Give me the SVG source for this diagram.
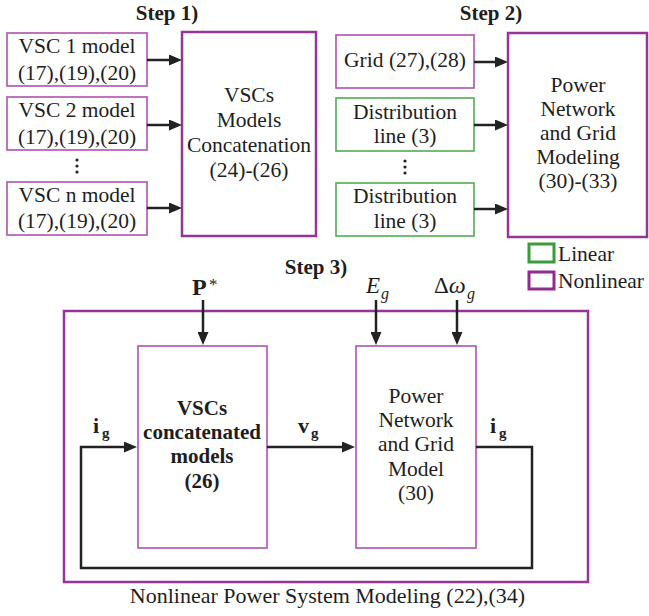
<svg xmlns="http://www.w3.org/2000/svg" width="649" height="616" viewBox="0 0 649 616">
<defs>
<style>
text{font-family:"Liberation Serif","Times New Roman",serif;fill:#1e1e1e}
.t{font-size:21.5px;text-anchor:middle}
.b{font-weight:bold}
.st{font-size:21px;font-weight:bold;text-anchor:middle}
.pb{fill:#fff;stroke:#973597;stroke-width:2.5}
.ps{fill:#fff;stroke:#b35cb3;stroke-width:1.7}
.gs{fill:#fff;stroke:#5caf5c;stroke-width:1.7}
.c{fill:none;stroke:#222;stroke-width:2.5}
</style>
<marker id="ah" viewBox="0 0 13 11" refX="9" refY="5.5" markerWidth="13" markerHeight="11" markerUnits="userSpaceOnUse" orient="auto">
<path d="M0,0 L13,5.5 L0,11 Z" fill="#222"/>
</marker>
</defs>

<text class="st" x="167" y="20">Step 1)</text>
<text class="st" x="491" y="20">Step 2)</text>
<text class="st" x="316" y="274">Step 3)</text>

<g id="vsc1"><rect class="ps" x="7" y="33" width="140" height="53"/><text class="t" x="77" y="53">VSC 1 model</text><text class="t" x="77" y="80">(17),(19),(20)</text></g>
<g id="vsc2"><rect class="ps" x="7" y="97" width="140" height="53"/><text class="t" x="77" y="117">VSC 2 model</text><text class="t" x="77" y="144">(17),(19),(20)</text></g>
<g id="dots1"><circle cx="77" cy="160" r="1.6" fill="#222"/><circle cx="77" cy="166" r="1.6" fill="#222"/><circle cx="77" cy="172" r="1.6" fill="#222"/></g>
<g id="vscn"><rect class="ps" x="7" y="182" width="140" height="53"/><text class="t" x="77" y="202">VSC n model</text><text class="t" x="77" y="228">(17),(19),(20)</text></g>
<g id="concat"><rect class="pb" x="182" y="32" width="134" height="204"/><text class="t" x="249" y="102">VSCs</text><text class="t" x="249" y="127">Models</text><text class="t" x="249" y="152">Concatenation</text><text class="t" x="249" y="177">(24)-(26)</text></g>

<g id="grid"><rect class="ps" x="336" y="35" width="138" height="53"/><text class="t" x="405" y="67">Grid (27),(28)</text></g>
<g id="dist1"><rect class="gs" x="336" y="98" width="138" height="53"/><text class="t" x="405" y="119">Distribution</text><text class="t" x="405" y="143">line (3)</text></g>
<g id="dots2"><circle cx="405" cy="161" r="1.6" fill="#222"/><circle cx="405" cy="167" r="1.6" fill="#222"/><circle cx="405" cy="173" r="1.6" fill="#222"/></g>
<g id="dist2"><rect class="gs" x="336" y="183" width="138" height="53"/><text class="t" x="405" y="203">Distribution</text><text class="t" x="405" y="228">line (3)</text></g>
<g id="pngm"><rect class="pb" x="508" y="33" width="139" height="204"/><text class="t" x="578" y="92">Power</text><text class="t" x="578" y="116">Network</text><text class="t" x="578" y="140">and Grid</text><text class="t" x="578" y="164">Modeling</text><text class="t" x="578" y="188">(30)-(33)</text></g>

<g id="legend">
<rect x="529" y="244" width="25" height="18" fill="#fff" stroke="#3b9a3b" stroke-width="3"/>
<text x="558" y="261" style="font-size:21.5px">Linear</text>
<rect x="529" y="272" width="25" height="17" fill="#fff" stroke="#8e2d8e" stroke-width="3"/>
<text x="558" y="288" style="font-size:21.5px">Nonlinear</text>
</g>

<g id="outer"><rect class="pb" x="64" y="311" width="524" height="271"/><text x="327.5" y="603" style="font-size:22px;text-anchor:middle">Nonlinear Power System Modeling (22),(34)</text></g>
<g id="vscs3"><rect class="ps" x="138" y="346" width="129" height="202"/><text class="t b" x="202" y="415" style="font-size:21px">VSCs</text><text class="t b" x="202" y="439" style="font-size:21px">concatenated</text><text class="t b" x="202" y="463" style="font-size:21px">models</text><text class="t b" x="202" y="488" style="font-size:21px">(26)</text></g>
<g id="pngm3"><rect class="ps" x="356" y="346" width="120" height="202"/><text class="t" x="416" y="403">Power</text><text class="t" x="416" y="427">Network</text><text class="t" x="416" y="451">and Grid</text><text class="t" x="416" y="476">Model</text><text class="t" x="416" y="500">(30)</text></g>

<g id="labels">
<text x="192" y="295" style="font-size:24px;font-weight:bold">P</text><text x="209" y="290" style="font-size:17px">*</text>
<text x="366" y="293" style="font-size:23px;font-style:italic">E</text><text x="381" y="299" style="font-size:16px;font-style:italic">g</text>
<text x="434" y="293" style="font-size:23px">Δ<tspan style="font-style:italic;font-size:24px">ω</tspan></text><text x="467" y="299" style="font-size:16px;font-style:italic">g</text>
<text x="93" y="433" style="font-size:22px;font-weight:bold">i</text><text x="102" y="438" style="font-size:15px;font-weight:bold">g</text>
<text x="298" y="433" style="font-size:22px;font-weight:bold">v</text><text x="311" y="438" style="font-size:15px;font-weight:bold">g</text>
<text x="490" y="433" style="font-size:22px;font-weight:bold">i</text><text x="499" y="438" style="font-size:15px;font-weight:bold">g</text>
</g>

<g id="connectors">
<line class="c" x1="147" y1="60" x2="178" y2="60" marker-end="url(#ah)"/>
<line class="c" x1="147" y1="125" x2="178" y2="125" marker-end="url(#ah)"/>
<line class="c" x1="147" y1="208" x2="178" y2="208" marker-end="url(#ah)"/>
<line class="c" x1="474" y1="62" x2="504" y2="62" marker-end="url(#ah)"/>
<line class="c" x1="474" y1="125" x2="504" y2="125" marker-end="url(#ah)"/>
<line class="c" x1="474" y1="209" x2="504" y2="209" marker-end="url(#ah)"/>
<line class="c" x1="203" y1="300" x2="203" y2="341" marker-end="url(#ah)"/>
<line class="c" x1="376" y1="300" x2="376" y2="341" marker-end="url(#ah)"/>
<line class="c" x1="457" y1="300" x2="457" y2="341" marker-end="url(#ah)"/>
<line class="c" x1="267" y1="447" x2="351" y2="447" marker-end="url(#ah)"/>
<path class="c" d="M476,447 H532 V568 H81 V447 H133" marker-end="url(#ah)"/>
</g>
</svg>
